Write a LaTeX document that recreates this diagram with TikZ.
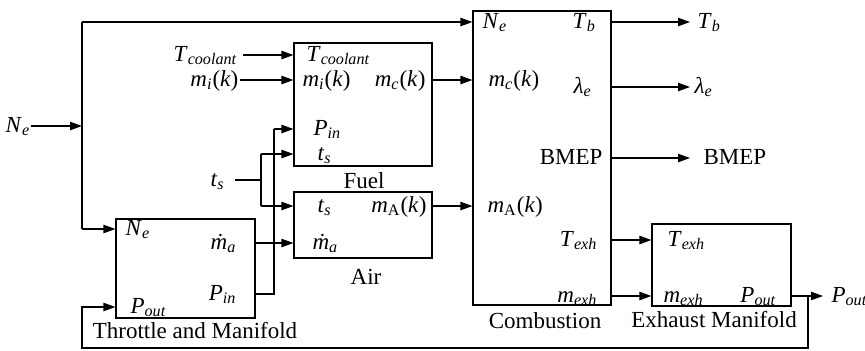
\documentclass[tikz,border=0pt]{standalone}
\usepackage{fontspec}
\setmainfont{Liberation Serif}
\usetikzlibrary{arrows.meta,fit}
\newcommand\vsub[2]{\textit{#1}\textsubscript{\textit{#2}}}
\newcommand\mdot{\textit{\.{m}}}
\begin{document}
\begin{tikzpicture}[x=0.5pt,y=-0.5pt,line width=0.6pt,
  arr/.style={-{Triangle[length=6pt,width=4.2pt]}},
  blk/.style={draw,inner sep=0pt,fit=#1},
  lbl/.style={inner sep=0pt,font=\fontsize{11.5}{13}\selectfont},
  bw/.style={lbl,anchor=base west},
  be/.style={lbl,anchor=base east},
  bc/.style={lbl,anchor=base}]
\useasboundingbox (0,0) rectangle (865,350);
% box corners
\coordinate (t1) at (116,219); \coordinate (t2) at (255,318);
\coordinate (f1) at (294,43);  \coordinate (f2) at (432,166);
\coordinate (a1) at (294,192); \coordinate (a2) at (432,258);
\coordinate (c1) at (473,11);  \coordinate (c2) at (611,305);
\coordinate (e1) at (652,224); \coordinate (e2) at (791,306);
\node[blk=(t1)(t2)] (thr) {};
\node[blk=(f1)(f2)] (fuel) {};
\node[blk=(a1)(a2)] (air) {};
\node[blk=(c1)(c2)] (comb) {};
\node[blk=(e1)(e2)] (exh) {};
% captions
\node[bc] (capT) at (195,338) {Throttle and Manifold};
\node[bc] (capF) at (364,188) {Fuel};
\node[bc] (capA) at (366,284) {Air};
\node[bc] (capC) at (545,328) {Combustion};
\node[bc] (capE) at (714,327) {Exhaust Manifold};
% outer labels
\node[bw] (oNe) at (5,132) {\vsub{N}{e}};
\node[be] (oTc) at (238,61) {\vsub{T}{coolant}};
\node[be] (omi) at (239,86) {\vsub{m}{i}(\textit{k})};
\node[bw] (ots) at (210,186) {\vsub{t}{s}};
\node[bw] (oTb) at (697,28) {\vsub{T}{b}};
\node[bw] (ole) at (694,93) {\vsub{λ}{e}};
\node[bw] (oBM) at (703,164) {BMEP};
\node[bw] (oPo) at (831,302) {\vsub{P}{out}};
% fuel labels
\node[bw] (fTc) at (306,61) {\vsub{T}{coolant}};
\node[bw] (fmi) at (302,86) {\vsub{m}{i}(\textit{k})};
\node[be] (fmc) at (426,86) {\vsub{m}{c}(\textit{k})};
\node[bw] (fPi) at (313,135) {\vsub{P}{in}};
\node[bw] (fts) at (317,160) {\vsub{t}{s}};
% air labels
\node[bw] (ats) at (317,212) {\vsub{t}{s}};
\node[be] (amA) at (427,212) {\textit{m}\textsubscript{A}(\textit{k})};
\node[bw] (ama) at (312,249) {\mdot\textsubscript{\textit{a}}};
% combustion labels
\node[bw] (cNe) at (482,28) {\vsub{N}{e}};
\node[bw] (cTb) at (572,28) {\vsub{T}{b}};
\node[bw] (cmc) at (488,86) {\vsub{m}{c}(\textit{k})};
\node[bw] (cle) at (573,93) {\vsub{λ}{e}};
\node[be] (cBM) at (603,164) {BMEP};
\node[bw] (cmA) at (487,212) {\textit{m}\textsubscript{A}(\textit{k})};
\node[be] (cTx) at (598,246) {\vsub{T}{exh}};
\node[be] (cmx) at (598,302) {\vsub{m}{exh}};
% exhaust labels
\node[bw] (eTx) at (667,246) {\vsub{T}{exh}};
\node[bw] (emx) at (663,302) {\vsub{m}{exh}};
\node[be] (ePo) at (777,302) {\vsub{P}{out}};
% throttle labels
\node[bw] (tNe) at (125,235) {\vsub{N}{e}};
\node[be] (tma) at (237,249) {\mdot\textsubscript{\textit{a}}};
\node[be] (tPi) at (237,300) {\vsub{P}{in}};
\node[bw] (tPo) at (130,313) {\vsub{P}{out}};
% connector points
\coordinate (sNe) at (31,126);
\coordinate (jNe) at (82,126);
\coordinate (jTop) at (82,22);
\coordinate (jBot) at (82,229);
\coordinate (sTc) at (243,55);
\coordinate (smi) at (240,80);
\coordinate (sts) at (235,180);
\coordinate (jts) at (261,180);
\coordinate (jtsF) at (261,154);
\coordinate (jtsA) at (261,206);
\coordinate (jPi) at (274,294);
\coordinate (jPiF) at (274,129);
\coordinate (ePoR) at (823,296);
\coordinate (jPo) at (808,296);
\coordinate (jPoB) at (808,348);
\coordinate (jPoL) at (82,348);
\coordinate (jPoU) at (82,307);
\coordinate (eTb) at (690,22);
\coordinate (ele) at (690,87);
\coordinate (eBM) at (690,158);
% connectors
\draw[arr] (sNe) -- (jNe);
\draw (jTop) -- (jBot);
\draw[arr] (jTop) -- (comb.west |- jTop);
\draw[arr] (jBot) -- (thr.west |- jBot);
\draw[arr] (sTc) -- (fuel.west |- sTc);
\draw[arr] (smi) -- (fuel.west |- smi);
\draw (sts) -- (jts);
\draw (jtsF) -- (jtsA);
\draw[arr] (jtsF) -- (fuel.west |- jtsF);
\draw[arr] (jtsA) -- (air.west |- jtsA);
\draw (thr.east |- jPi) -- (jPi) -- (jPiF);
\draw[arr] (jPiF) -- (fuel.west |- jPiF);
\draw[arr] (thr.east |- 0,243) -- (air.west |- 0,243);
\draw[arr] (fuel.east |- 0,80) -- (comb.west |- 0,80);
\draw[arr] (air.east |- jtsA) -- (comb.west |- jtsA);
\draw[arr] (comb.east |- eTb) -- (eTb);
\draw[arr] (comb.east |- ele) -- (ele);
\draw[arr] (comb.east |- eBM) -- (eBM);
\draw[arr] (comb.east |- 0,240) -- (exh.west |- 0,240);
\draw[arr] (comb.east |- jPo) -- (exh.west |- jPo);
\draw[arr] (exh.east |- jPo) -- (ePoR);
\draw[arr] (jPo) -- (jPoB) -- (jPoL) -- (jPoU) -- (thr.west |- jPoU);
\end{tikzpicture}
\end{document}
